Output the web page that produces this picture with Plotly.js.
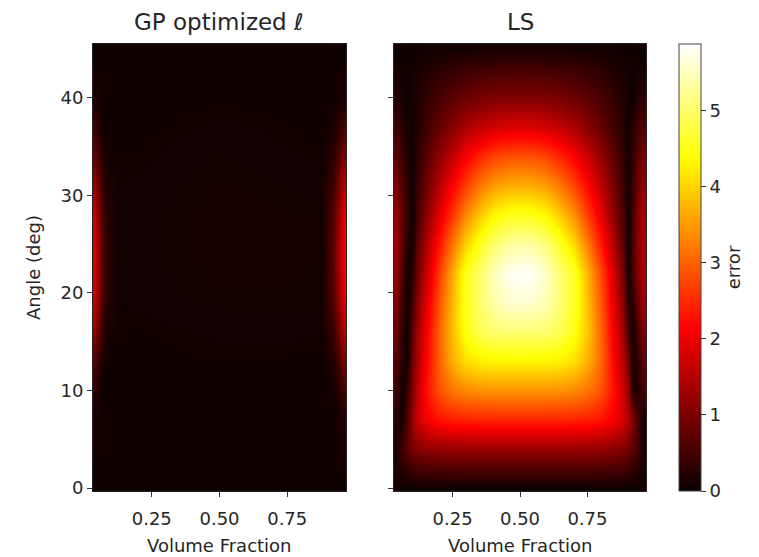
<!DOCTYPE html>
<html>
<head>
<meta charset="utf-8">
<script src="https://cdn.plot.ly/plotly-3.0.1.min.js"></script>
<style>html,body{margin:0;padding:0;background:#fff;}#chart{width:759px;height:557px;}</style>
</head>
<body>
<div id="chart"></div>
<script>
// ---- data ----
var fracX = [0.04, 0.06, 0.08, 0.10, 0.12, 0.15, 0.20, 0.25, 0.30, 0.35, 0.40, 0.45, 0.50,
             0.55, 0.60, 0.65, 0.70, 0.75, 0.80, 0.85, 0.88, 0.90, 0.92, 0.94, 0.96];
var lsAngle = [0, 2, 4, 7, 10, 13, 16, 19, 22, 25, 28, 31, 34, 37, 40, 43, 45];
var lsError = [
  [0.10,0.05,0.05,0.05,0.05,0.05,0.05,0.05,0.05,0.05,0.05,0.05,0.05,0.05,0.05,0.05,0.05,0.05,0.05,0.05,0.05,0.05,0.05,0.05,0.10],
  [0.10,0.20,0.35,0.45,0.50,0.55,0.58,0.60,0.60,0.60,0.60,0.60,0.60,0.60,0.60,0.60,0.60,0.60,0.58,0.55,0.50,0.45,0.35,0.20,0.10],
  [0.15,0.45,0.75,0.95,1.05,1.15,1.20,1.22,1.24,1.25,1.25,1.25,1.25,1.25,1.25,1.25,1.24,1.22,1.20,1.12,1.00,0.90,0.70,0.40,0.10],
  [0.25,0.05,0.60,1.20,1.65,2.05,2.30,2.38,2.42,2.44,2.45,2.45,2.45,2.45,2.45,2.44,2.42,2.38,2.30,2.05,1.75,1.45,1.00,0.40,0.05],
  [0.45,0.05,0.40,1.00,1.60,2.25,2.85,3.20,3.35,3.42,3.45,3.45,3.45,3.45,3.45,3.42,3.35,3.20,2.85,2.25,1.70,1.20,0.15,0.30,0.60],
  [0.65,0.30,0.05,0.85,1.40,2.10,3.00,3.70,4.10,4.25,4.30,4.30,4.30,4.30,4.30,4.25,4.10,3.70,3.05,2.10,1.50,0.90,0.10,0.45,0.80],
  [0.85,0.40,0.05,0.70,1.30,2.05,3.00,3.85,4.50,4.85,5.00,5.05,5.05,5.05,5.00,4.85,4.50,3.90,3.00,2.00,1.30,0.50,0.10,0.70,1.05],
  [1.05,0.55,0.05,0.45,1.10,1.85,2.85,3.80,4.55,5.00,5.35,5.55,5.60,5.58,5.40,5.05,4.60,3.85,2.90,1.85,1.10,0.20,0.35,1.00,1.35],
  [1.20,0.70,0.10,0.25,0.90,1.65,2.65,3.70,4.55,5.00,5.45,5.75,5.87,5.80,5.50,5.05,4.60,3.75,2.75,1.70,0.90,0.05,0.60,1.20,1.50],
  [1.30,0.80,0.25,0.05,0.70,1.40,2.30,3.20,4.00,4.55,5.00,5.25,5.35,5.30,5.05,4.60,4.05,3.25,2.35,1.40,0.70,0.05,0.60,1.25,1.50],
  [1.20,0.80,0.35,0.05,0.50,1.10,1.90,2.65,3.35,3.90,4.30,4.50,4.55,4.50,4.30,3.90,3.40,2.70,1.95,1.10,0.55,0.05,0.60,1.20,1.45],
  [1.00,0.70,0.30,0.05,0.40,0.85,1.50,2.15,2.70,3.20,3.50,3.65,3.70,3.65,3.50,3.20,2.75,2.20,1.55,0.90,0.45,0.05,0.50,1.00,1.20],
  [0.70,0.45,0.20,0.05,0.30,0.65,1.15,1.65,2.10,2.45,2.70,2.82,2.85,2.82,2.70,2.45,2.10,1.70,1.20,0.70,0.35,0.05,0.40,0.80,0.95],
  [0.45,0.30,0.12,0.05,0.20,0.45,0.80,1.10,1.40,1.60,1.75,1.83,1.85,1.83,1.75,1.60,1.40,1.10,0.80,0.45,0.25,0.05,0.30,0.55,0.65],
  [0.25,0.12,0.05,0.10,0.20,0.35,0.55,0.70,0.85,0.95,1.00,1.05,1.05,1.05,1.00,0.95,0.85,0.70,0.55,0.35,0.20,0.10,0.05,0.25,0.35],
  [0.10,0.05,0.05,0.08,0.12,0.18,0.27,0.35,0.42,0.46,0.48,0.50,0.50,0.50,0.48,0.46,0.42,0.35,0.27,0.18,0.12,0.08,0.05,0.08,0.12],
  [0.05,0.05,0.05,0.05,0.05,0.06,0.08,0.09,0.10,0.10,0.10,0.10,0.10,0.10,0.10,0.10,0.10,0.09,0.08,0.06,0.05,0.05,0.05,0.05,0.05]
];
var gpX = [0.04, 0.06, 0.08, 0.12, 0.50, 0.88, 0.92, 0.94, 0.96];
var gpAngle = [0, 8, 12, 16, 20, 24, 28, 32, 36, 40, 45];
var gpError = [
  [0.05,0.05,0.05,0.05,0.05,0.05,0.05,0.05,0.05],
  [0.15,0.05,0.05,0.05,0.05,0.05,0.05,0.15,0.30],
  [0.50,0.15,0.05,0.05,0.06,0.05,0.15,0.45,0.85],
  [1.20,0.55,0.15,0.06,0.08,0.08,0.40,0.95,1.50],
  [1.70,0.85,0.30,0.08,0.10,0.10,0.65,1.35,1.95],
  [1.80,0.90,0.32,0.08,0.11,0.10,0.70,1.45,2.00],
  [1.65,0.80,0.28,0.08,0.11,0.10,0.60,1.30,1.90],
  [1.10,0.50,0.16,0.07,0.10,0.08,0.40,0.90,1.40],
  [0.55,0.20,0.08,0.05,0.09,0.06,0.18,0.40,0.70],
  [0.15,0.06,0.05,0.05,0.06,0.05,0.06,0.10,0.18],
  [0.05,0.05,0.05,0.05,0.05,0.05,0.05,0.05,0.05]
];
var xTickVals = [0.25, 0.5, 0.75];
var xTickText = ['0.25', '0.50', '0.75'];
var yTickVals = [0, 10, 20, 30, 40];
var cbTickVals = [0, 1, 2, 3, 4, 5];
var titles = ['GP optimized \u2113', 'LS'];

// ---- styling ----
var W = 759, H = 557;
var font = 'DejaVu Sans, sans-serif';
var txt = '#262626';
var hot = [[0, 'rgb(10,0,0)'], [0.365079, 'rgb(255,0,0)'], [0.746032, 'rgb(255,255,0)'], [1, 'rgb(255,255,255)']];
var yDom = [66 / H, 513 / H];
var x1Dom = [93 / W, 346 / W];
var x2Dom = [394 / W, 646 / W];

var traces = [
  {type: 'heatmap', x: gpX, y: gpAngle, z: gpError, zsmooth: 'best', coloraxis: 'coloraxis', xaxis: 'x', yaxis: 'y', hoverinfo: 'skip'},
  {type: 'heatmap', x: fracX, y: lsAngle, z: lsError, zsmooth: 'best', coloraxis: 'coloraxis', xaxis: 'x2', yaxis: 'y2', hoverinfo: 'skip'}
];

function xAx(dom) {
  return {domain: dom, range: [0.033, 0.967], tickvals: xTickVals, ticktext: xTickText,
    ticks: 'outside', ticklen: 5, tickwidth: 1, tickcolor: '#333', showgrid: false, zeroline: false,
    showline: true, mirror: true, linecolor: '#222', linewidth: 1, automargin: false,
    ticklabelstandoff: 6,
    tickfont: {family: font, size: 18, color: txt}};
}
function yAx(showLabels, anchor) {
  return {domain: yDom, range: [-0.3, 45.5], tickvals: yTickVals, showticklabels: showLabels,
    ticks: 'outside', ticklen: 5, tickwidth: 1, tickcolor: '#333', showgrid: false, zeroline: false,
    showline: true, mirror: true, linecolor: '#222', linewidth: 1, automargin: false, anchor: anchor,
    ticksuffix: '\u00a0',
    tickfont: {family: font, size: 18, color: txt}};
}

var layout = {
  width: W, height: H,
  margin: {l: 0, r: 0, t: 0, b: 0, pad: 0},
  paper_bgcolor: '#fff', plot_bgcolor: '#fff',
  showlegend: false,
  font: {family: font, color: txt},
  xaxis: Object.assign(xAx(x1Dom), {anchor: 'y'}),
  xaxis2: Object.assign(xAx(x2Dom), {anchor: 'y2'}),
  yaxis: yAx(true, 'x'),
  yaxis2: yAx(false, 'x2'),
  coloraxis: {
    colorscale: hot, cmin: 0, cmax: 5.87,
    colorbar: {
      x: 679 / W, xanchor: 'left', xref: 'paper', y: yDom[0], yanchor: 'bottom', yref: 'paper',
      len: yDom[1] - yDom[0], lenmode: 'fraction', thickness: 22, thicknessmode: 'pixels',
      xpad: 0, ypad: 0, outlinewidth: 1, outlinecolor: '#444',
      tickvals: cbTickVals, ticks: 'outside', ticklen: 5, tickcolor: '#333', tickprefix: '\u00a0',
      tickfont: {family: font, size: 18, color: txt},
      title: {text: 'error', side: 'right', font: {family: font, size: 18, color: txt}}
    }
  },
  annotations: [
    {text: titles[0], x: (x1Dom[0] + x1Dom[1]) / 2, y: 1 - 22 / H, xref: 'paper', yref: 'paper',
     xanchor: 'center', yanchor: 'middle', showarrow: false, font: {family: font, size: 23, color: txt}},
    {text: titles[1], x: (x2Dom[0] + x2Dom[1]) / 2, y: 1 - 22 / H, xref: 'paper', yref: 'paper',
     xanchor: 'center', yanchor: 'middle', showarrow: false, font: {family: font, size: 23, color: txt}},
    {text: 'Volume Fraction', x: (x1Dom[0] + x1Dom[1]) / 2, y: 12 / H, xref: 'paper', yref: 'paper',
     xanchor: 'center', yanchor: 'middle', showarrow: false, font: {family: font, size: 18, color: txt}},
    {text: 'Volume Fraction', x: (x2Dom[0] + x2Dom[1]) / 2, y: 12 / H, xref: 'paper', yref: 'paper',
     xanchor: 'center', yanchor: 'middle', showarrow: false, font: {family: font, size: 18, color: txt}},
    {text: 'Angle (deg)', x: 33 / W, y: 1 - 268 / H, xref: 'paper', yref: 'paper', textangle: -90,
     xanchor: 'center', yanchor: 'middle', showarrow: false, font: {family: font, size: 18, color: txt}}
  ]
};

Plotly.newPlot('chart', traces, layout, {staticPlot: true, displayModeBar: false});
</script>
</body>
</html>
